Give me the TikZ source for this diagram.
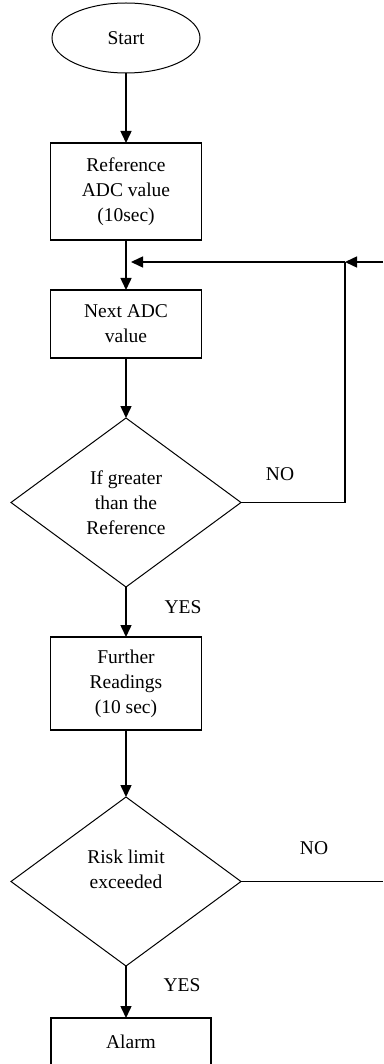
\documentclass[tikz,border=0pt]{standalone}
\usepackage{fontspec}
\setmainfont{Liberation Serif}
\usetikzlibrary{arrows.meta,positioning,shapes.geometric}

\begin{document}
\begin{tikzpicture}[
      x=1pt, y=1pt,
      line width=1.5pt,
      every node/.style={font=\fontsize{19.5}{25}\selectfont, outer sep=0pt},
      startnode/.style={
         ellipse,
         draw=black,
         line width=1pt,
         inner sep=0pt,
         minimum width=148pt,
         minimum height=70pt},
      stepbox/.style={
         rectangle,
         draw=black,
         align=center,
         inner sep=0pt,
         minimum width=151pt},
      decision/.style={
         diamond,
         draw=black,
         line width=1pt,
         align=center,
         inner sep=0pt,
         minimum width=230pt,
         minimum height=169pt},
      myarrow/.style={-{Triangle[length=12pt,width=11pt]}}
      ]
      \useasboundingbox (0,0) rectangle (383,-1064);

      \node[startnode] (start) at (126,-38) {Start};
      \node[stepbox,minimum height=97pt,below=70pt of start] (refadc) {Reference\\ADC value\\(10sec)};
      \node[stepbox,minimum height=68pt,below=50pt of refadc] (nextadc) {Next ADC\\value};
      \node[decision,below=60pt of nextadc] (greater) {If greater\\than the\\Reference};
      \node[stepbox,minimum height=93pt,below=50pt of greater] (further) {Further\\Readings\\(10 sec)};
      \node[decision,text depth=24pt,below=67pt of further] (risk) {Risk limit\\exceeded};
      \node[stepbox,minimum width=160pt,minimum height=48pt,below=52pt of risk,xshift=5pt] (alarm) {Alarm};

      % loop back from the right
      \coordinate (loopin) at (383,-262);
      \coordinate (loopjoin) at (345,-262);
      \coordinate (looptip) at (131,-262);
      \coordinate (riskout) at (risk.east -| loopin);

    \foreach \i/\j in {% start node/end node
      start/refadc,
      refadc/nextadc,
      nextadc/greater,
      greater/further,
      further/risk,
      risk/alarm}
       \draw [myarrow] (\i.south) -- (\i.south |- \j.north);

      \draw [myarrow] (loopin) -- (loopjoin);
      \draw [myarrow] (loopjoin) -- (looptip);
      \draw (greater.east) -| (loopjoin);
      \draw (risk.east) -- (riskout);

      \node (no1) at (280,-474) {NO};
      \node (no2) at (314,-848) {NO};
      \node (yes1) at (183,-607) {YES};
      \node (yes2) at (182,-985) {YES};

    \end{tikzpicture}
\end{document}
